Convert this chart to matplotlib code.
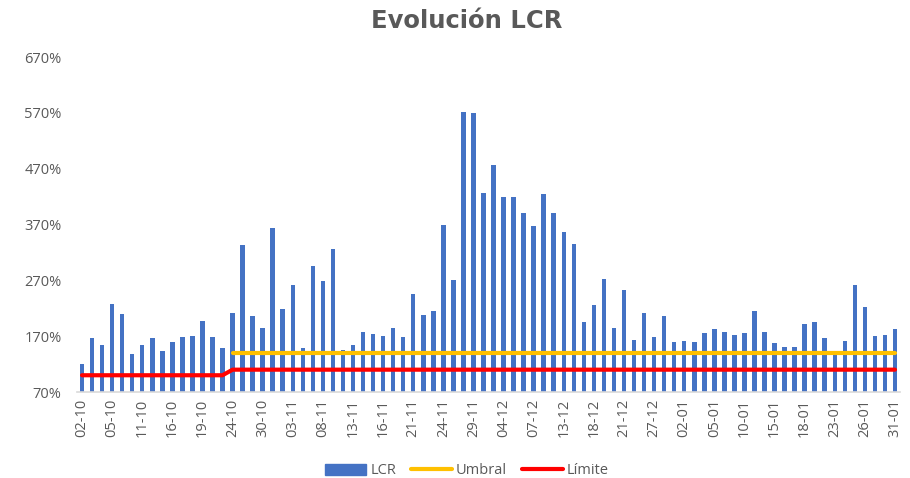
import numpy as np
from matplotlib import pyplot as plt
from matplotlib.lines import Line2D
from matplotlib.patches import Patch

# valores LCR (%) por día
lcr = [121, 167, 155, 228, 209, 138, 154, 166, 144, 160,
       169, 170, 197, 169, 148, 211, 334, 206, 185, 363,
       219, 262, 148, 295, 268, 326, 146, 155, 177, 173,
       170, 185, 169, 246, 208, 215, 370, 270, 571, 570,
       427, 476, 419, 419, 391, 368, 424, 390, 357, 335,
       195, 226, 272, 185, 252, 164, 211, 169, 206, 160,
       162, 160, 175, 182, 177, 172, 175, 215, 177, 158,
       151, 151, 191, 195, 166, 137, 162, 261, 223, 170,
       172, 182]
umbral = [np.nan] * 15 + [140] * 67
limite = [100] * 15 + [110] * 67
tick_labels = ["02-10", "05-10", "11-10", "16-10", "19-10", "24-10", "30-10",
               "03-11", "08-11", "13-11", "16-11", "21-11", "24-11", "29-11",
               "04-12", "07-12", "13-12", "18-12", "21-12", "27-12", "02-01",
               "05-01", "10-01", "15-01", "18-01", "23-01", "26-01", "31-01"]

grey = "#595959"
x = np.arange(len(lcr))

fig = plt.figure(figsize=(9.1, 4.78), dpi=100)
ax = fig.add_axes([77/910, 86/478, 823/910, 335/478])

ax.bar(x, lcr, width=0.45, color="#4472C4", zorder=2)
ax.plot(x, umbral, color="#FFC000", lw=3, solid_capstyle="round", zorder=3)
ax.plot(x, limite, color="#FF0000", lw=3, solid_capstyle="round", zorder=3)

ax.set_xlim(-0.5, len(lcr) - 0.5)
ax.set_ylim(70, 670)
ax.set_yticks(np.arange(70, 671, 100))
ax.set_yticklabels([f"{v}%" for v in range(70, 671, 100)])
ax.set_xticks(x[::3])
ax.set_xticklabels(tick_labels, rotation=90)

for s in ["top", "right", "left"]:
    ax.spines[s].set_visible(False)
ax.spines["bottom"].set_color("#D9D9D9")
ax.spines["bottom"].set_linewidth(1.2)
ax.tick_params(axis="both", length=0, labelsize=10.5, colors=grey)
ax.tick_params(axis="y", pad=11)
ax.tick_params(axis="x", pad=5)
for t in ax.get_xticklabels() + ax.get_yticklabels():
    t.set_fontfamily("Open Sans")

fig.text(467/910, 1 - 21/478, "Evolución LCR", ha="center", va="center",
         fontsize=17.5, fontweight="bold", color=grey, family="DejaVu Sans")

handles = [Patch(color="#4472C4"),
           Line2D([], [], color="#FFC000", lw=3, solid_capstyle="round"),
           Line2D([], [], color="#FF0000", lw=3, solid_capstyle="round")]
fig.legend(handles, ["LCR", "Umbral", "Límite"], loc="center",
           bbox_to_anchor=(467/910, 1 - 471/478), ncol=3, frameon=False,
           handlelength=2.8, handletextpad=0.3, columnspacing=1.0,
           prop={"family": "Open Sans", "size": 10.5}, labelcolor=grey)

fig.savefig("out.png", dpi=100)
